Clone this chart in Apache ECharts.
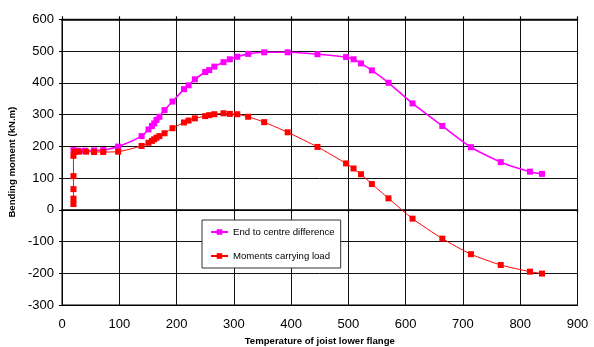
<!DOCTYPE html>
<html>
<head>
<meta charset="utf-8">
<script src="https://cdn.jsdelivr.net/npm/echarts@6/dist/echarts.min.js"></script>
<style>
  html, body { margin: 0; padding: 0; background: #fff; }
  #chart { width: 594px; height: 347px; }
</style>
</head>
<body>
<div id="chart"></div>
<script>
// Temperature of the joist lower flange (°C) and bending moments (kN.m)
var endTemps = [20, 28, 40, 56, 72, 98, 139, 151, 157, 161, 165, 170, 179, 193, 213, 221, 232, 250, 257, 266, 282, 293, 306, 325, 353, 394, 446, 496, 509, 522, 541, 570, 612, 664, 714, 766, 817, 838];
var endDiff = [188, 186, 186, 187, 188, 199, 232, 253, 264, 272, 283, 293, 314, 341, 380, 392, 411, 434, 440, 451, 465, 474, 482, 491, 496, 496, 490, 481, 474, 461, 439, 400, 335, 264, 197, 150, 120, 113];

var loadTemps = [20, 20, 20, 20, 20, 22, 30, 42, 56, 72, 98, 139, 151, 157, 161, 165, 170, 179, 193, 213, 221, 232, 250, 257, 266, 282, 293, 306, 325, 353, 394, 446, 496, 509, 522, 541, 570, 612, 664, 714, 766, 817, 838];
var loadMoment = [18, 35, 65, 106, 170, 183, 183, 183, 182, 182, 183, 201, 211, 217, 222, 227, 232, 241, 257, 275, 281, 288, 295, 298, 301, 304, 302, 301, 293, 276, 244, 198, 146, 130, 112, 81, 36, -28, -91, -140, -174, -195, -201];

var seriesNames = ['End to centre difference', 'Moments carrying load'];
var xTitle = 'Temperature of joist lower flange';
var yTitle = 'Bending moment (kN.m)';

function pairs(xs, ys) {
  return xs.map(function (x, i) { return [x, ys[i]]; });
}

var FONT = '"Liberation Sans", Arial, sans-serif';
var chart = echarts.init(document.getElementById('chart'), null, { renderer: 'canvas' });

// Extra axes pinned to y = 0 so the zero line carries tick marks on both sides
var zeroAxisBase = {
  type: 'value', min: 0, max: 900, interval: 100,
  axisLine: { show: true, onZero: true, lineStyle: { color: '#000', width: 1.6 } },
  axisTick: { show: true, length: 3, lineStyle: { color: '#000', width: 1.2 } },
  axisLabel: { show: false },
  splitLine: { show: false }
};

chart.setOption({
  animation: false,
  backgroundColor: '#fff',
  textStyle: { fontFamily: FONT },
  grid: {
    left: 62, right: 16.5, top: 19.3, bottom: 42,
    outerBoundsMode: 'none',
    show: true, borderColor: '#000', borderWidth: 1, backgroundColor: '#fff'
  },
  legend: {
    orient: 'vertical',
    left: 202, top: 220,
    data: seriesNames,
    backgroundColor: '#fff',
    borderColor: '#333', borderWidth: 1,
    padding: [7, 6, 7, 8],
    itemWidth: 17, itemHeight: 7, itemGap: 14,
    textStyle: { fontFamily: FONT, fontSize: 9.6, color: '#000' }
  },
  xAxis: [
    {
      type: 'value', min: 0, max: 900, interval: 100, position: 'bottom',
      axisLine: { show: true, onZero: false, lineStyle: { color: '#000', width: 1 } },
      axisTick: { show: false },
      axisLabel: { fontFamily: FONT, fontSize: 13, color: '#000', margin: 13 },
      splitLine: { show: true, lineStyle: { color: '#111', width: 1 } },
      name: xTitle, nameLocation: 'middle', nameGap: 31,
      nameTextStyle: { fontFamily: FONT, fontSize: 9.6, fontWeight: 'bold', color: '#000' }
    },
    Object.assign({ position: 'bottom' }, zeroAxisBase),
    Object.assign({ position: 'top' }, zeroAxisBase)
  ],
  yAxis: {
    type: 'value', min: -300, max: 600, interval: 100,
    axisLine: { show: true, onZero: false, lineStyle: { color: '#000', width: 1 } },
    axisTick: { show: true, length: 3, lineStyle: { color: '#000' } },
    axisLabel: { fontFamily: FONT, fontSize: 13, color: '#000', margin: 8 },
    splitLine: { show: true, lineStyle: { color: '#111', width: 1 } },
    name: yTitle, nameLocation: 'middle', nameGap: 34,
    nameTextStyle: { fontFamily: FONT, fontSize: 9.6, fontWeight: 'bold', color: '#000' }
  },
  series: [
    {
      name: seriesNames[0], type: 'line', xAxisIndex: 0,
      data: pairs(endTemps, endDiff),
      smooth: 0.2,
      symbol: 'rect', symbolSize: 6,
      itemStyle: { color: '#ff00ff' },
      lineStyle: { color: '#ff00ff', width: 1.6 },
      z: 3
    },
    {
      name: seriesNames[1], type: 'line', xAxisIndex: 0,
      data: pairs(loadTemps, loadMoment),
      smooth: 0.2,
      symbol: 'rect', symbolSize: 6,
      itemStyle: { color: '#ff0000' },
      lineStyle: { color: '#ff0000', width: 1 },
      z: 4
    }
  ]
});
</script>
</body>
</html>
